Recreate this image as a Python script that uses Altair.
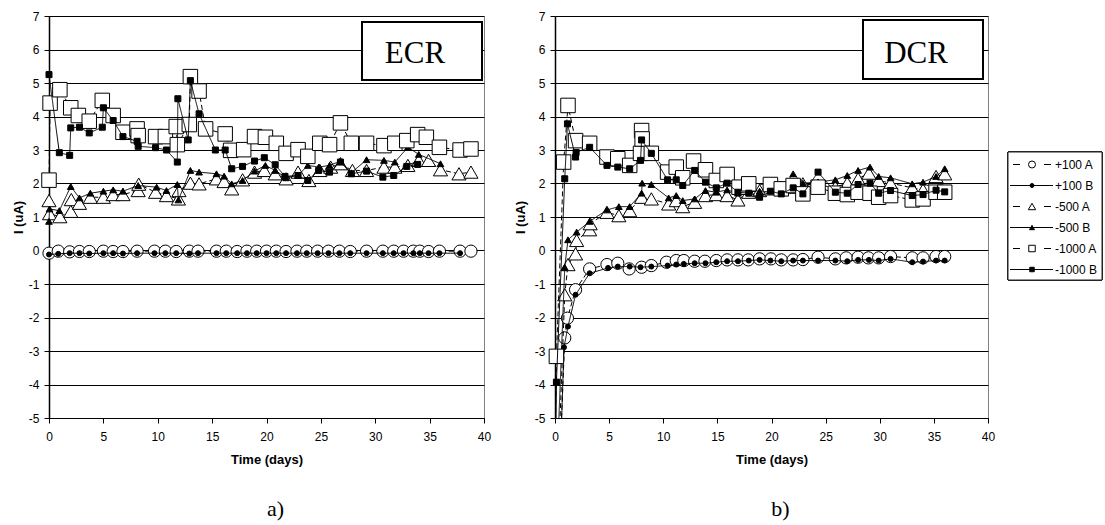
import altair as alt
import pandas as pd

SERIES = ["+100 A", "+100 B", "-500 A", "-500 B", "-1000 A", "-1000 B"]

# ---------------- ECR panel (a) ----------------
E_P100A_DAY = [0, 0.85, 1.9, 2.8, 3.7, 5.0, 5.9, 6.8, 8.1, 9.7, 10.7, 11.7, 12.9, 13.7, 15.4, 16.3, 17.3,
               18.2, 19.1, 20.0, 20.9, 21.8, 22.8, 23.7, 24.7, 25.7, 26.7, 27.7, 29.2, 30.7, 31.7, 32.6,
               33.5, 34.1, 34.9, 35.9, 37.8, 38.8]
E_P100A_I = [-0.08, -0.02, -0.04, -0.03, -0.03, -0.02, -0.03, -0.03, -0.02, -0.02, -0.02, -0.03, -0.02,
             -0.02, -0.02, -0.02, -0.03, -0.02, -0.02, -0.02, -0.02, -0.03, -0.02, -0.02, -0.02, -0.02,
             -0.02, -0.03, -0.02, -0.02, -0.02, -0.02, -0.02, -0.02, -0.03, -0.02, -0.02, -0.02]
E_P100B_DAY = [0, 0.85, 1.9, 2.8, 3.7, 5.0, 5.9, 6.8, 8.1, 9.7, 10.7, 11.7, 12.9, 13.7, 15.4, 16.3, 17.3,
               18.2, 19.1, 20.0, 20.9, 21.8, 22.8, 23.7, 24.7, 25.7, 26.7, 27.7, 29.2, 30.7, 31.7, 32.6,
               33.5, 34.1, 34.9, 35.9, 37.8]
E_P100B_I = [-0.12, -0.1, -0.08, -0.08, -0.09, -0.08, -0.08, -0.09, -0.08, -0.08, -0.08, -0.08, -0.09,
             -0.08, -0.08, -0.08, -0.08, -0.08, -0.08, -0.08, -0.08, -0.08, -0.08, -0.08, -0.08, -0.08,
             -0.08, -0.08, -0.08, -0.08, -0.08, -0.08, -0.08, -0.08, -0.08, -0.08, -0.08]
E_M500A_DAY = [0, 0.05, 1.0, 2.0, 2.05, 2.8, 3.8, 5.0, 5.9, 6.8, 8.2, 8.25, 9.8, 10.8, 11.9, 11.95, 13.0,
               13.8, 15.4, 16.1, 16.8, 17.8, 18.9, 19.8, 20.8, 21.8, 22.9, 23.9, 24.9, 25.9, 26.8, 27.9,
               29.2, 30.8, 31.8, 33.0, 34.0, 34.9, 36.0, 37.7, 38.8]
E_M500A_I = [1.49, 1.1, 1.01, 1.17, 1.52, 1.41, 1.59, 1.59, 1.67, 1.67, 1.79, 1.98, 1.74, 1.64, 1.54, 1.79,
             2.01, 1.99, 2.14, 2.06, 1.84, 2.11, 2.34, 2.39, 2.29, 2.14, 2.34, 2.09, 2.39, 2.49, 2.59,
             2.39, 2.39, 2.49, 2.49, 2.54, 2.69, 2.69, 2.41, 2.29, 2.34]
E_M500B_DAY = [0, 0.05, 0.95, 2.0, 2.8, 3.8, 5.0, 5.9, 6.8, 8.2, 9.9, 10.8, 11.8, 11.9, 13.0, 13.8, 15.4,
               16.1, 16.8, 17.8, 18.9, 19.9, 20.8, 21.8, 22.9, 23.8, 24.8, 25.8, 26.8, 27.8, 29.2, 30.8,
               31.8, 33.0, 34.0, 36.0]
E_M500B_I = [0.87, 1.24, 1.19, 1.91, 1.57, 1.71, 1.77, 1.81, 1.77, 1.94, 1.89, 1.79, 1.97, 1.51, 2.39,
             2.34, 2.29, 2.22, 1.99, 2.09, 2.37, 2.54, 2.39, 2.17, 2.24, 2.54, 2.49, 2.54, 2.67, 2.32,
             2.71, 2.69, 2.64, 3.08, 2.87, 2.59]
E_M1000A_DAY = [0, 0.1, 1.0, 2.0, 2.7, 3.7, 4.9, 5.9, 6.8, 8.1, 8.2, 9.8, 10.7, 11.7, 11.8, 12.9, 13.0,
                13.8, 14.4, 16.2, 16.7, 17.9, 18.9, 19.9, 20.9, 21.8, 22.9, 23.8, 24.9, 25.8, 26.8, 27.8,
                29.2, 30.8, 31.8, 32.9, 33.9, 34.7, 35.9, 37.8, 38.8]
E_M1000A_I = [2.1, 4.4, 4.8, 4.26, 4.03, 3.86, 4.48, 4.03, 3.53, 3.63, 3.43, 3.4, 3.4, 3.7, 3.16, 3.76,
              5.19, 4.76, 3.63, 3.48, 2.99, 3.01, 3.4, 3.38, 3.2, 2.9, 3.01, 2.81, 3.2, 3.16, 3.81, 3.2,
              3.2, 3.13, 3.2, 3.28, 3.46, 3.38, 3.08, 3.0, 3.03]
E_M1000B_DAY = [0, 0.95, 1.9, 2.0, 2.8, 3.7, 4.9, 5.0, 5.9, 6.8, 8.1, 8.2, 9.8, 10.8, 11.8, 11.85, 12.8,
                13.0, 13.8, 15.3, 16.2, 16.8, 17.8, 18.9, 19.8, 20.8, 21.7, 22.9, 23.8, 24.8, 25.8, 26.8,
                27.8, 29.2, 30.7, 31.7, 32.9, 33.9]
E_M1000B_I = [5.25, 2.92, 2.84, 3.66, 3.68, 3.51, 3.68, 4.26, 3.88, 3.4, 3.26, 3.11, 3.07, 3.0, 2.64, 4.53,
              3.3, 5.07, 4.08, 3.0, 3.0, 2.44, 2.51, 2.67, 2.77, 2.56, 2.21, 2.24, 2.09, 2.39, 2.34, 2.64,
              2.29, 2.37, 2.19, 2.24, 2.51, 2.57]

# ---------------- DCR panel (b) ----------------
D_P100A_DAY = [0.0, 0.9, 1.15, 1.9, 3.2, 4.8, 5.8, 6.85, 8.0, 8.9, 10.3, 11.2, 11.9, 12.9, 13.85, 14.9,
               15.9, 16.9, 17.85, 18.9, 19.95, 20.9, 22.0, 22.9, 24.3, 25.9, 26.9, 28.0, 28.95, 29.9,
               31.0, 33.0, 34.0, 35.2, 36.0]
D_P100A_I = [-10.0, -2.61, -2.02, -1.17, -0.55, -0.42, -0.38, -0.55, -0.5, -0.45, -0.35, -0.3, -0.3,
             -0.32, -0.32, -0.3, -0.28, -0.28, -0.28, -0.25, -0.25, -0.28, -0.28, -0.27, -0.2, -0.25,
             -0.22, -0.2, -0.22, -0.22, -0.18, -0.22, -0.22, -0.18, -0.18]
D_P100B_DAY = [0.0, 0.83, 1.2, 1.9, 3.2, 4.9, 5.8, 6.9, 7.9, 8.9, 10.4, 11.2, 11.9, 12.9, 13.9, 14.9,
               15.9, 16.9, 17.9, 18.9, 19.9, 20.9, 22.0, 22.9, 24.3, 25.9, 27.0, 28.0, 29.0, 29.9, 31.0,
               33.0, 34.0, 35.2, 36.0]
D_P100B_I = [-11.0, -2.89, -2.27, -1.32, -0.68, -0.52, -0.48, -0.48, -0.5, -0.48, -0.45, -0.42, -0.4,
             -0.38, -0.38, -0.35, -0.32, -0.32, -0.3, -0.28, -0.3, -0.32, -0.3, -0.3, -0.3, -0.3, -0.32,
             -0.28, -0.28, -0.3, -0.25, -0.35, -0.33, -0.3, -0.3]
D_M500A_DAY = [0.0, 0.9, 1.2, 1.9, 2.0, 3.2, 3.25, 4.8, 5.9, 6.9, 8.0, 8.9, 10.5, 11.2, 11.8, 12.9, 13.9,
               14.9, 15.9, 16.9, 17.9, 18.9, 19.9, 20.9, 22.0, 22.9, 24.3, 25.9, 27.0, 28.0, 29.0, 29.9,
               31.0, 33.0, 34.0, 35.2, 36.0]
D_M500A_I = [-9.0, -1.32, -0.42, -0.1, 0.3, 0.62, 0.8, 1.14, 1.04, 1.19, 1.59, 1.54, 1.39, 1.49, 1.31,
             1.44, 1.64, 1.67, 1.64, 1.51, 1.74, 1.79, 1.84, 1.89, 1.89, 1.99, 1.94, 1.89, 2.01, 2.14,
             2.31, 2.09, 2.01, 1.87, 1.81, 2.21, 2.29]
D_M500B_DAY = [0.0, 0.9, 1.2, 2.0, 3.2, 4.8, 5.9, 6.9, 8.0, 8.05, 8.9, 10.5, 11.2, 11.8, 12.9, 13.9, 14.9,
               15.9, 16.9, 17.9, 18.9, 19.9, 20.9, 22.0, 22.9, 24.3, 25.9, 27.0, 28.0, 29.1, 29.9, 31.0,
               33.0, 34.0, 35.2, 36.0]
D_M500B_I = [-8.0, -0.5, 0.32, 0.55, 0.87, 1.21, 1.31, 1.31, 1.71, 2.01, 1.97, 1.57, 1.64, 1.49, 1.54,
             1.79, 1.74, 1.81, 1.71, 1.79, 1.77, 1.79, 1.84, 2.29, 2.01, 2.05, 2.11, 2.24, 2.39, 2.49,
             2.21, 2.17, 1.99, 2.04, 2.21, 2.44]
D_M1000A_DAY = [0.0, 0.13, 0.8, 1.2, 1.9, 3.2, 4.8, 5.8, 6.9, 7.9, 8.0, 8.05, 8.9, 10.4, 11.2, 11.8, 12.8,
                13.9, 14.9, 15.9, 17.0, 17.9, 19.9, 20.9, 22.0, 22.9, 24.3, 25.9, 27.0, 28.0, 29.1, 29.9,
                31.0, 33.0, 34.0, 35.2, 36.0]
D_M1000A_I = [-6.5, -3.16, 2.64, 4.33, 3.28, 3.2, 2.79, 2.74, 2.54, 2.9, 3.58, 3.33, 2.9, 2.34, 2.49, 2.17,
              2.67, 2.41, 2.09, 2.27, 1.89, 1.99, 1.97, 1.84, 1.94, 1.69, 1.89, 1.71, 1.67, 1.74, 1.71,
              1.59, 1.64, 1.51, 1.54, 1.74, 1.74]
D_M1000B_DAY = [0.0, 0.13, 0.9, 1.15, 1.9, 1.95, 3.2, 4.8, 5.8, 6.9, 7.9, 8.0, 8.9, 10.4, 11.2, 11.8, 12.9,
                13.9, 14.9, 15.9, 16.9, 17.9, 18.9, 19.9, 20.9, 22.0, 22.9, 24.3, 25.9, 27.0, 28.0, 29.1,
                29.9, 31.0, 33.0, 34.0, 35.2, 36.0]
D_M1000B_I = [-7.0, -3.93, 2.14, 3.78, 2.79, 2.93, 3.08, 2.54, 2.49, 2.44, 2.69, 3.3, 2.9, 2.11, 2.11, 1.94,
              2.39, 2.04, 1.87, 2.01, 1.74, 1.71, 1.59, 1.77, 1.69, 1.87, 1.69, 2.34, 1.74, 1.71, 1.97,
              2.01, 1.71, 1.79, 1.64, 1.67, 1.8, 1.75]

X_TICKS = [0, 5, 10, 15, 20, 25, 30, 35, 40]
Y_TICKS = [-5, -4, -3, -2, -1, 0, 1, 2, 3, 4, 5, 6, 7]

# ---------------- styles ----------------
SHAPES = ["circle", "circle", "triangle-up", "triangle-up", "square", "square"]
SIZES = [150, 25, 200, 45, 210, 36]
LEG_SIZES = [49, 16, 55, 25, 42, 20]
FILLS = ["white", "black", "white", "black", "white", "black"]
DASHES = [[5, 3], [1, 0], [5, 3], [1, 0], [5, 3], [1, 0]]
LEG_DASHES = [[7, 24], [1, 0], [7, 24], [1, 0], [7, 24], [1, 0]]
SANS = "Liberation Sans"
SERIF = "Liberation Serif"

PW1, PW2, PH = 435, 433, 402


def frame(pairs):
    rows = []
    for name, days, vals in pairs:
        for k, (d, v) in enumerate(zip(days, vals)):
            rows.append({"series": name, "day": d, "I": v, "k": k})
    return pd.DataFrame(rows)


ecr = frame([("+100 A", E_P100A_DAY, E_P100A_I), ("+100 B", E_P100B_DAY, E_P100B_I),
             ("-500 A", E_M500A_DAY, E_M500A_I), ("-500 B", E_M500B_DAY, E_M500B_I),
             ("-1000 A", E_M1000A_DAY, E_M1000A_I), ("-1000 B", E_M1000B_DAY, E_M1000B_I)])
dcr = frame([("+100 A", D_P100A_DAY, D_P100A_I), ("+100 B", D_P100B_DAY, D_P100B_I),
             ("-500 A", D_M500A_DAY, D_M500A_I), ("-500 B", D_M500B_DAY, D_M500B_I),
             ("-1000 A", D_M1000A_DAY, D_M1000A_I), ("-1000 B", D_M1000B_DAY, D_M1000B_I)])


def panel(df, width, label, caption, box, text_xy, ytitle_pad, clip_lines, legend=False):
    x = alt.X("day:Q", scale=alt.Scale(domain=[0, 40], nice=False),
              axis=alt.Axis(values=X_TICKS, grid=False, title="Time (days)", labelFlush=False,
                            tickSize=5, labelPadding=8, titlePadding=11))
    y = alt.Y("I:Q", scale=alt.Scale(domain=[-5, 7], nice=False),
              axis=alt.Axis(values=Y_TICKS, grid=True, title="I (uA)", tickSize=5,
                            labelExpr="'' + datum.value",
                            labelPadding=5, titlePadding=ytitle_pad))
    base = alt.Chart(df)
    layers = []
    for i, name in enumerate(SERIES):
        sub = base.transform_filter(alt.datum.series == name)
        layers.append(sub.mark_line(color="black", strokeWidth=1, strokeDash=DASHES[i], clip=clip_lines)
                      .encode(x=x, y=y, order="k:Q"))
        layers.append(sub.transform_filter(alt.datum.I >= -5)
                      .mark_point(shape=SHAPES[i], size=SIZES[i], filled=True, fill=FILLS[i],
                                  stroke="black", strokeWidth=1, opacity=1)
                      .encode(x=x, y=y))
    one = alt.Chart(pd.DataFrame({"t": [label]}))
    layers.append(one.mark_rect(fill="white", stroke="black", strokeWidth=2)
                  .encode(x=alt.value(box[0]), x2=alt.value(box[1]),
                          y=alt.value(box[2]), y2=alt.value(box[3])))
    layers.append(one.mark_text(font=SERIF, fontSize=31, baseline="alphabetic", align="center",
                                color="black")
                  .encode(text="t:N", x=alt.value(text_xy[0]), y=alt.value(text_xy[1])))
    cap = alt.Chart(pd.DataFrame({"t": [caption]}))
    layers.append(cap.mark_text(font=SERIF, fontSize=22, baseline="middle", align="center",
                                color="black")
                  .encode(text="t:N", x=alt.value(width / 2 + 9), y=alt.value(493)))
    if legend:
        leg = pd.DataFrame({"series": SERIES, "row": list(range(len(SERIES)))})
        leg["ly"] = 148.5 + 21 * leg["row"]
        lbase = alt.Chart(leg)
        layers.append(lbase.mark_rect(fill="white", stroke="#222222", strokeWidth=1)
                      .encode(x=alt.value(453), x2=alt.value(547), y=alt.value(136), y2=alt.value(264)))
        for i, name in enumerate(SERIES):
            sub = lbase.transform_filter(alt.datum.series == name)
            a_series = name.endswith("A")
            layers.append(sub.mark_rule(color="black", strokeWidth=1, strokeDash=LEG_DASHES[i])
                          .encode(x=alt.value(458 if a_series else 455),
                                  x2=alt.value(496 if a_series else 498),
                                  y=alt.Y("ly:Q", scale=None, axis=None)))
            layers.append(sub.mark_point(shape=SHAPES[i], size=LEG_SIZES[i], filled=True, fill=FILLS[i],
                                         stroke="black", strokeWidth=1, opacity=1)
                          .encode(x=alt.value(477), y=alt.Y("ly:Q", scale=None, axis=None)))
        layers.append(lbase.mark_text(font=SANS, fontSize=12, align="left", baseline="middle",
                                      color="black")
                      .encode(text="series:N", x=alt.value(500),
                              y=alt.Y("ly:Q", scale=None, axis=None)))
    return alt.layer(*layers).properties(width=width, height=PH)


p1 = panel(ecr, PW1, "ECR", "a)", (313, 433, 6, 64), (366, 47), 3, False)
p2 = panel(dcr, PW2, "DCR", "b)", (308, 428, 4, 63), (361, 47), 7, True, legend=True)

chart = (
    alt.hconcat(p1, p2, spacing=71, bounds="flush")
    .properties(padding={"left": 11, "top": 9, "right": 0, "bottom": 0})
    .configure_view(stroke="#808080", strokeWidth=1)
    .configure_axis(labelFont=SANS, labelFontSize=12, labelColor="black",
                    titleFont=SANS, titleFontSize=13, titleFontWeight="bold", titleColor="black",
                    tickColor="black", domainColor="black", gridColor="black", gridWidth=1,
                    gridOpacity=1, domainWidth=1)
    .configure_axisY(domainWidth=1.5)
)

chart.save("out.html", embed_options={"renderer": "svg", "actions": False})
